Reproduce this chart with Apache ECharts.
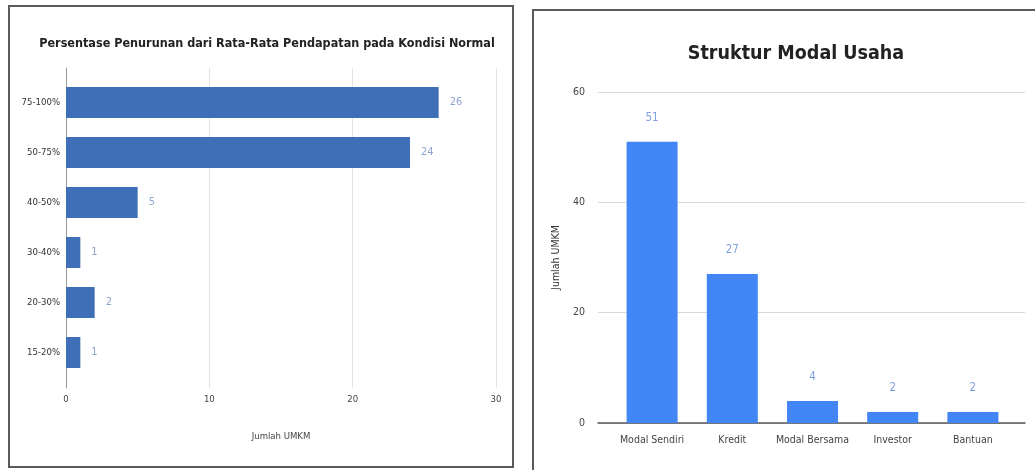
<!DOCTYPE html>
<html>
<head>
<meta charset="utf-8">
<title>Penurunan Pendapatan & Struktur Modal</title>
<script src="https://cdn.jsdelivr.net/npm/echarts@6/dist/echarts.min.js"></script>
<style>
  html, body { margin: 0; padding: 0; background: #fff; }
  #wrap { position: relative; width: 1035px; height: 470px; overflow: hidden; }
  .panel { position: absolute; border: 2px solid #5a5a5a; box-sizing: border-box; }
  #panelL { left: 8px; top: 5px; width: 506px; height: 463px; }
  #panelR { left: 532px; top: 9px; width: 520px; height: 480px; }
  #chart { position: absolute; left: 0; top: 0; width: 1035px; height: 470px; }
</style>
</head>
<body>
<div id="wrap">
  <div class="panel" id="panelL"></div>
  <div class="panel" id="panelR"></div>
  <div id="chart"></div>
</div>
<script>
'use strict';

// kiri: persentase penurunan pendapatan
var turunKategori = ['75-100%', '50-75%', '40-50%', '30-40%', '20-30%', '15-20%'];
var turunJumlah = [26, 24, 5, 1, 2, 1];
var turunTicks = [0, 10, 20, 30];

// kanan: struktur modal usaha
var modalKategori = ['Modal Sendiri', 'Kredit', 'Modal Bersama', 'Investor', 'Bantuan'];
var modalJumlah = [51, 27, 4, 2, 2];
var modalTicks = [0, 20, 40, 60];

var narrow = '"DejaVu Sans Condensed", "Liberation Sans", sans-serif';

var myChart = echarts.init(document.getElementById('chart'), null, { renderer: 'canvas' });

var option = {
    animation: false,
    backgroundColor: 'transparent',
    title: [
        {
            text: 'Persentase Penurunan dari Rata-Rata Pendapatan pada Kondisi Normal',
            left: 262, top: 32, textAlign: 'center',
            textStyle: { fontFamily: narrow, fontWeight: 'bold', fontSize: 12.5, color: '#222' }
        },
        {
            text: 'Struktur Modal Usaha',
            left: 791, top: 39, textAlign: 'center',
            textStyle: { fontFamily: narrow, fontWeight: 'bold', fontSize: 19.5, color: '#222' }
        }
    ],
    grid: [
        // 0: garis kisi kiri
        { left: 66, right: 539, top: 68, bottom: 82 },
        // 1: batang kiri
        { left: 66, right: 539, top: 77.5, bottom: 92.5 },
        // 2: garis kisi kanan
        { left: 598, right: 10, top: 92, bottom: 47 },
        // 3: batang kanan
        { left: 612, right: 22, top: 92, bottom: 47 }
    ],
    xAxis: [
        {
            gridIndex: 0, type: 'value', min: turunTicks[0], max: turunTicks[turunTicks.length - 1], interval: 10,
            name: 'Jumlah UMKM', nameLocation: 'middle', nameGap: 44,
            nameTextStyle: { fontFamily: narrow, fontSize: 9.5, color: '#444' },
            axisLine: { show: false },
            axisTick: { show: false },
            axisLabel: { margin: 7, fontFamily: narrow, fontSize: 9.5, color: '#444' },
            splitLine: { lineStyle: { color: '#e2e2e2' } }
        },
        {
            gridIndex: 1, type: 'value', min: 0, max: 30,
            show: false
        },
        {
            gridIndex: 2, type: 'category', data: modalKategori,
            axisLine: { lineStyle: { color: '#555', width: 1.5 } },
            axisTick: { show: false },
            axisLabel: { show: false }
        },
        {
            gridIndex: 3, type: 'category', data: modalKategori,
            axisLine: { show: false },
            axisTick: { show: false },
            axisLabel: { interval: 0, margin: 12, fontFamily: narrow, fontSize: 10.5, color: '#444' }
        }
    ],
    yAxis: [
        {
            gridIndex: 0, type: 'category', data: turunKategori,
            axisLine: { lineStyle: { color: '#999' } },
            axisTick: { show: false },
            axisLabel: { show: false }
        },
        {
            gridIndex: 1, type: 'category', data: turunKategori, inverse: true,
            axisLine: { show: false },
            axisTick: { show: false },
            axisLabel: { margin: 6, fontFamily: narrow, fontSize: 9.5, color: '#333' }
        },
        {
            gridIndex: 2, type: 'value', min: modalTicks[0], max: modalTicks[modalTicks.length - 1], interval: 20,
            name: 'Jumlah UMKM', nameLocation: 'middle', nameGap: 36, nameRotate: 90,
            nameTextStyle: { fontFamily: narrow, fontSize: 10.5, color: '#333' },
            axisLine: { show: false },
            axisTick: { show: false },
            axisLabel: { margin: 13, fontFamily: narrow, fontSize: 10.5, color: '#444' },
            splitLine: { lineStyle: { color: '#d9d9d9' } }
        },
        {
            gridIndex: 3, type: 'value', min: 0, max: 60,
            show: false
        }
    ],
    series: [
        {
            name: 'Penurunan',
            type: 'bar',
            xAxisIndex: 1, yAxisIndex: 1,
            data: turunJumlah,
            barWidth: 31,
            itemStyle: { color: '#3f6fb6' },
            label: {
                show: true, position: 'right', distance: 11,
                fontFamily: narrow, fontSize: 11, color: '#8ea6cf'
            }
        },
        {
            name: 'Modal',
            type: 'bar',
            xAxisIndex: 3, yAxisIndex: 3,
            data: modalJumlah,
            barWidth: 51,
            itemStyle: { color: '#4285f4' },
            label: {
                show: true, position: 'top', distance: 18,
                fontFamily: narrow, fontSize: 11.5, color: '#7d9fe0'
            }
        }
    ]
};

myChart.setOption(option);
</script>
</body>
</html>
